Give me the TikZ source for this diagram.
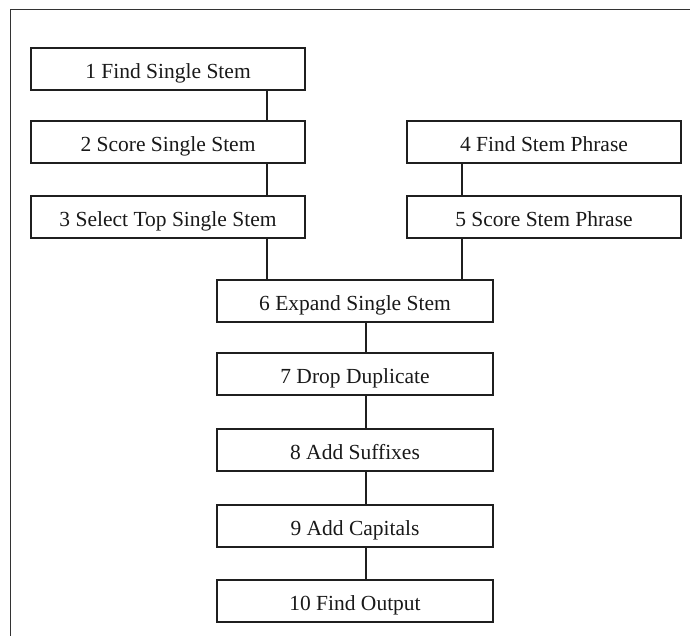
\documentclass[tikz,border=0pt]{standalone}
\usepackage{fontspec}
\setmainfont{Liberation Serif}
\begin{document}
\begin{tikzpicture}[x=1pt,y=-1pt,
  stepbox/.style={draw=black!88,line width=1.6pt,fill=white,inner sep=0pt,
    font=\fontsize{21.5}{25}\selectfont,text=black!90,
    text height=22.6pt,text depth=4.3pt},
  sidebox/.style={stepbox,minimum width=274pt,minimum height=42pt},
  midbox/.style={stepbox,minimum width=276pt,minimum height=42pt},
  link/.style={draw=black!88,line width=1.4pt},
  frameline/.style={draw=black!80,line width=1pt}]
\useasboundingbox (0,0) rectangle (690,636);
\coordinate (ftop) at (690,10);
\coordinate (fcorner) at (10,10);
\coordinate (fbottom) at (10,636);
\draw[frameline] (ftop) -- (fcorner) -- (fbottom);

\node[sidebox] (b1) at (168,69) {1 Find Single Stem};
\node[sidebox] (b2) at (168,142) {2 Score Single Stem};
\node[sidebox] (b3) at (168,217) {3 Select Top Single Stem};
\node[sidebox] (b4) at (544,142) {4 Find Stem Phrase};
\node[sidebox] (b5) at (544,217) {5 Score Stem Phrase};
\node[midbox] (b6) at (355,301) {6 Expand Single Stem};
\node[midbox] (b7) at (355,374) {7 Drop Duplicate};
\node[midbox] (b8) at (355,450) {8 Add Suffixes};
\node[midbox] (b9) at (355,526) {9 Add Capitals};
\node[midbox] (b10) at (355,601) {10 Find Output};

\draw[link] ([xshift=99pt]b1.south) -- ([xshift=99pt]b2.north);
\draw[link] ([xshift=99pt]b2.south) -- ([xshift=99pt]b3.north);
\draw[link] ([xshift=-82pt]b4.south) -- ([xshift=-82pt]b5.north);
\draw[link] ([xshift=99pt]b3.south) -- ([xshift=99pt]b3.south |- b6.north);
\draw[link] ([xshift=-82pt]b5.south) -- ([xshift=-82pt]b5.south |- b6.north);
\draw[link] ([xshift=11pt]b6.south) -- ([xshift=11pt]b7.north);
\draw[link] ([xshift=11pt]b7.south) -- ([xshift=11pt]b8.north);
\draw[link] ([xshift=11pt]b8.south) -- ([xshift=11pt]b9.north);
\draw[link] ([xshift=11pt]b9.south) -- ([xshift=11pt]b10.north);
\end{tikzpicture}
\end{document}
